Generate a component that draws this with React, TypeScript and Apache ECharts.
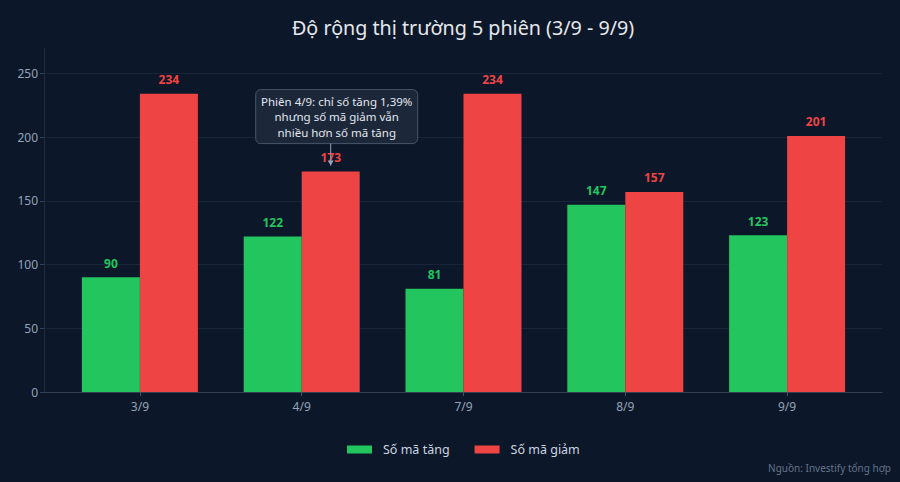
import { useEffect, useRef } from "react";
import * as echarts from "echarts";

// session dates and counts of advancing / declining tickers
const sessions = ["3/9", "4/9", "7/9", "8/9", "9/9"];
const advancers = [90, 122, 81, 147, 123];
const decliners = [234, 173, 234, 157, 201];
const seriesNames = ["Số mã tăng", "Số mã giảm"];

const noteSession = "4/9";
const noteValue = 173;
const noteLines = ["Phiên 4/9: chỉ số tăng 1,39%", "nhưng số mã giảm vẫn", "nhiều hơn số mã tăng"];

const FONT = "'Noto Sans', 'Open Sans', sans-serif";
const BG = "#0c1729";
const GREEN = "#22c55e";
const RED = "#ef4444";
const BAR_W = 58;

const App: React.FC = () => {
  const chartRef = useRef<HTMLDivElement>(null);

  useEffect(() => {
    document.body.style.margin = "0";
    document.body.style.background = BG;
    if (!chartRef.current) return;
    const chart = echarts.init(chartRef.current, undefined, { renderer: "svg" });

    const yCommon = {
      type: "value" as const,
      min: 0,
      max: 270,
      interval: 50,
    };

    chart.setOption({
      animation: false,
      backgroundColor: BG,
      textStyle: { fontFamily: FONT },
      title: {
        text: "Độ rộng thị trường 5 phiên (3/9 - 9/9)",
        left: 287,
        top: 12,
        textStyle: { color: "#e5e7eb", fontSize: 19.7, fontWeight: "normal", fontFamily: FONT },
      },
      legend: {
        data: seriesNames,
        left: 347,
        top: 443,
        padding: 0,
        icon: "rect",
        itemWidth: 25,
        itemHeight: 8,
        itemGap: 25,
        textStyle: { color: "#cbd5e1", fontSize: 12.5, fontFamily: FONT, padding: [0, 0, 0, 6] },
      },
      grid: [
        // frame grid: axis lines and split lines span full width
        { left: 44, right: 18, top: 48, bottom: 90 },
        // bar grid: inset categories
        { left: 59, right: 32, top: 48, bottom: 90 },
      ],
      xAxis: [
        {
          type: "category",
          gridIndex: 0,
          data: sessions,
          axisLine: { show: true, lineStyle: { color: "#334155" } },
          axisTick: { show: false },
          axisLabel: { show: false },
        },
        {
          type: "category",
          gridIndex: 1,
          data: sessions,
          axisLine: { show: false },
          axisTick: { show: true, alignWithLabel: true, length: 4, lineStyle: { color: "#475569" } },
          axisLabel: { color: "#94a3b8", fontSize: 12, margin: 8, fontFamily: FONT },
        },
      ],
      yAxis: [
        {
          ...yCommon,
          gridIndex: 0,
          axisLine: { show: true, lineStyle: { color: "#1f2a3c" } },
          axisTick: { show: true, length: 4, lineStyle: { color: "#334155" } },
          axisLabel: { color: "#94a3b8", fontSize: 12, margin: 6, showMaxLabel: false, fontFamily: FONT },
          splitLine: { show: true, showMaxLine: false, lineStyle: { color: "#18243a" } },
        },
        {
          ...yCommon,
          gridIndex: 1,
          show: false,
          splitLine: { show: false },
        },
      ],
      series: [
        {
          name: seriesNames[0],
          type: "bar",
          xAxisIndex: 1,
          yAxisIndex: 1,
          data: advancers,
          barWidth: BAR_W,
          barGap: "0%",
          itemStyle: { color: GREEN },
          label: {
            show: true,
            position: "top",
            distance: 8,
            color: GREEN,
            fontSize: 12,
            fontWeight: "bold",
            fontFamily: FONT,
          },
        },
        {
          name: seriesNames[1],
          type: "bar",
          xAxisIndex: 1,
          yAxisIndex: 1,
          data: decliners,
          barWidth: BAR_W,
          barGap: "0%",
          itemStyle: { color: RED },
          label: {
            show: true,
            position: "top",
            distance: 8,
            color: RED,
            fontSize: 12,
            fontWeight: "bold",
            fontFamily: FONT,
          },
        },
      ],
    });

    // place the annotation above the declining bar of the noted session
    const pt = chart.convertToPixel({ xAxisIndex: 1, yAxisIndex: 1 }, [noteSession, noteValue]) as number[];
    const ax = pt[0] + BAR_W / 2;
    const barTop = pt[1];
    const boxW = 162;
    const boxH = 54;
    const boxCx = ax + 6;
    const boxTop = barTop - 82;
    const tipY = barTop - 6;

    chart.setOption({
      graphic: [
        {
          type: "text",
          right: 9,
          top: 463,
          style: {
            text: "Nguồn: Investify tổng hợp",
            fill: "#64748b",
            font: `10px ${FONT}`,
          },
        },
        {
          type: "rect",
          z: 100,
          shape: { x: boxCx - boxW / 2, y: boxTop, width: boxW, height: boxH, r: 5 },
          style: { fill: "rgba(30,41,59,0.92)", stroke: "#475569", lineWidth: 1 },
        },
        {
          type: "text",
          z: 101,
          x: boxCx,
          y: boxTop + boxH / 2,
          style: {
            text: noteLines.join("\n"),
            fill: "#e2e8f0",
            font: `11.5px ${FONT}`,
            lineHeight: 15.5,
            align: "center",
            verticalAlign: "middle",
          },
        },
        {
          type: "line",
          z: 101,
          shape: { x1: ax, y1: boxTop + boxH, x2: ax, y2: tipY },
          style: { stroke: "#94a3b8", lineWidth: 1 },
        },
        {
          type: "polygon",
          z: 101,
          shape: { points: [[ax - 3, tipY - 5], [ax + 3, tipY - 5], [ax, tipY]] },
          style: { fill: "#94a3b8" },
        },
      ],
    });

    return () => {
      chart.dispose();
    };
  }, []);

  return <div ref={chartRef} style={{ width: "900px", height: "482px" }} />;
};

export default App;
